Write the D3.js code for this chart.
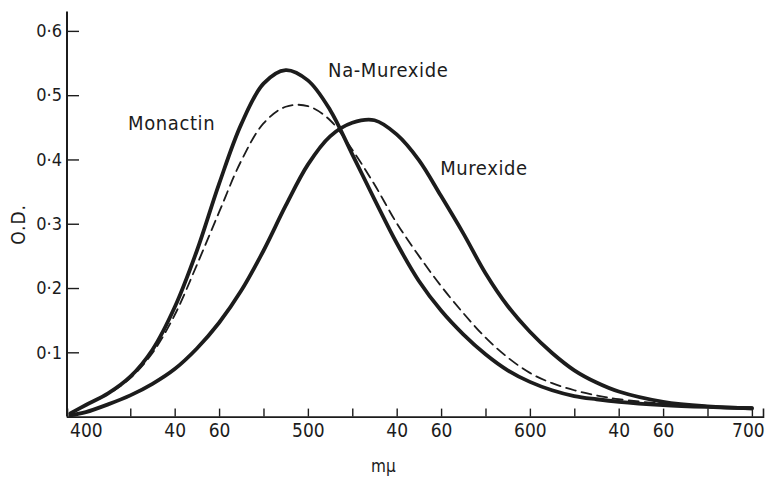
<!DOCTYPE html>
<html>
<head>
<meta charset="utf-8">
<script src="https://cdn.jsdelivr.net/npm/d3@7"></script>
<style>
  html, body { margin: 0; padding: 0; background: #fff; }
  svg { display: block; }
  text { font-family: "DejaVu Sans Condensed", "DejaVu Sans", sans-serif; fill: #1c1c1c; }
</style>
</head>
<body>
<svg id="chart" width="768" height="479"></svg>
<script>
// Absorption spectra: optical density against wavelength (mμ)
const wavelengths = [393, 400, 410, 420, 430, 440, 450, 460, 470, 480, 490, 500, 510, 520, 530, 540, 550, 560, 570, 580, 590, 600, 610, 620, 630, 640, 660, 680, 700];

// Monactin complex (tall solid curve)
const monactinOD = [0.005, 0.018, 0.036, 0.062, 0.104, 0.170, 0.258, 0.362, 0.455, 0.518, 0.539, 0.523, 0.477, 0.408, 0.338, 0.270, 0.211, 0.165, 0.128, 0.097, 0.072, 0.054, 0.041, 0.032, 0.027, 0.023, 0.018, 0.015, 0.013];

// Na-Murexide (dashed curve)
const naMurexideOD = [0.005, 0.018, 0.035, 0.060, 0.099, 0.158, 0.236, 0.318, 0.398, 0.456, 0.482, 0.483, 0.461, 0.415, 0.361, 0.301, 0.250, 0.203, 0.161, 0.123, 0.092, 0.068, 0.052, 0.041, 0.033, 0.027, 0.020, 0.015, 0.013];

// Murexide (solid curve, peak near 530)
const murexideOD = [0.002, 0.007, 0.019, 0.033, 0.051, 0.074, 0.106, 0.146, 0.196, 0.258, 0.328, 0.392, 0.436, 0.457, 0.461, 0.439, 0.399, 0.343, 0.285, 0.223, 0.172, 0.132, 0.099, 0.072, 0.053, 0.039, 0.023, 0.016, 0.013];

// Axis ticks and labels
const xTickMarks = [420, 440, 460, 480, 500, 520, 540, 560, 580, 600, 620, 640, 660, 680, 700];
const xTickLabels = [400, 440, 460, 500, 540, 560, 600, 640, 660, 700];
const yTicks = [0.1, 0.2, 0.3, 0.4, 0.5, 0.6];

// Curve names placed beside their curves (wavelength, OD at text baseline)
const labelNames = ["Monactin", "Na-Murexide", "Murexide"];
const labelAt = [[419.0, 0.446], [509.1, 0.528], [559.6, 0.376]];

const svg = d3.select("#chart");
const ink = "#1c1c1c";

const x = d3.scaleLinear().domain([391.5, 705]).range([67, 763]);
const y = d3.scaleLinear().domain([0, 0.63]).range([416.6, 11.6]);

// Curves
const line = d3.line()
  .x(d => x(d[0]))
  .y(d => y(d[1]))
  .curve(d3.curveCatmullRom.alpha(0.5));

const series = [
  { values: naMurexideOD, width: 1.8, dash: "10,6" },
  { values: murexideOD, width: 3.8, dash: null },
  { values: monactinOD, width: 3.8, dash: null }
];

svg.append("g")
  .selectAll("path")
  .data(series)
  .join("path")
  .attr("d", s => line(wavelengths.map((w, i) => [w, s.values[i]])))
  .attr("fill", "none")
  .attr("stroke", ink)
  .attr("stroke-width", s => s.width)
  .attr("stroke-dasharray", s => s.dash)
  .attr("stroke-linejoin", "round")
  .attr("stroke-linecap", "round");

// X axis: tick marks pointing up, numeric labels below
const xMarks = svg.append("g")
  .attr("transform", `translate(0,${y(0)})`)
  .call(d3.axisBottom(x).tickValues(xTickMarks).tickSize(-8).tickFormat(""));
xMarks.select(".domain").attr("stroke", ink).attr("stroke-width", 1.6);
xMarks.selectAll(".tick line").attr("stroke", ink).attr("stroke-width", 1.4);

const xLabels = svg.append("g")
  .attr("transform", `translate(0,${y(0)})`)
  .call(d3.axisBottom(x).tickValues(xTickLabels).tickSize(0).tickPadding(7)
    .tickFormat(d => d % 100 === 0 ? String(d) : String(d % 100)));
xLabels.select(".domain").remove();
xLabels.selectAll("text")
  .attr("font-size", 19)
  .attr("font-family", "DejaVu Sans Condensed, DejaVu Sans, sans-serif")
  .attr("fill", ink)
  .attr("dx", d => d === 700 ? -4 : 0);

// Y axis: ticks pointing inward
const yAxis = svg.append("g")
  .attr("transform", `translate(${x(391.5)},0)`)
  .call(d3.axisLeft(y).tickValues(yTicks).tickSize(-12).tickPadding(5)
    .tickFormat(d => d3.format(".1f")(d).replace(".", "·")));
yAxis.select(".domain").attr("stroke", ink).attr("stroke-width", 2)
  .attr("d", `M0,${y(0)}V${y(0.63)}`);
yAxis.selectAll(".tick line").attr("stroke", ink).attr("stroke-width", 1.4);
yAxis.selectAll("text")
  .attr("font-size", 18)
  .attr("font-family", "DejaVu Sans Condensed, DejaVu Sans, sans-serif")
  .attr("fill", ink);

// Axis titles
svg.append("text")
  .attr("transform", `translate(25,${y(0.299)}) rotate(-90)`)
  .attr("text-anchor", "middle")
  .attr("font-size", 19)
  .attr("letter-spacing", 1)
  .text("O.D.");

svg.append("text")
  .attr("x", x(534))
  .attr("y", 472)
  .attr("text-anchor", "middle")
  .attr("font-size", 17)
  .text("mμ");

// Curve names
svg.append("g")
  .selectAll("text")
  .data(labelNames)
  .join("text")
  .attr("x", (d, i) => x(labelAt[i][0]))
  .attr("y", (d, i) => y(labelAt[i][1]))
  .attr("font-size", 20)
  .attr("letter-spacing", 0.6)
  .text(d => d);
</script>
</body>
</html>
